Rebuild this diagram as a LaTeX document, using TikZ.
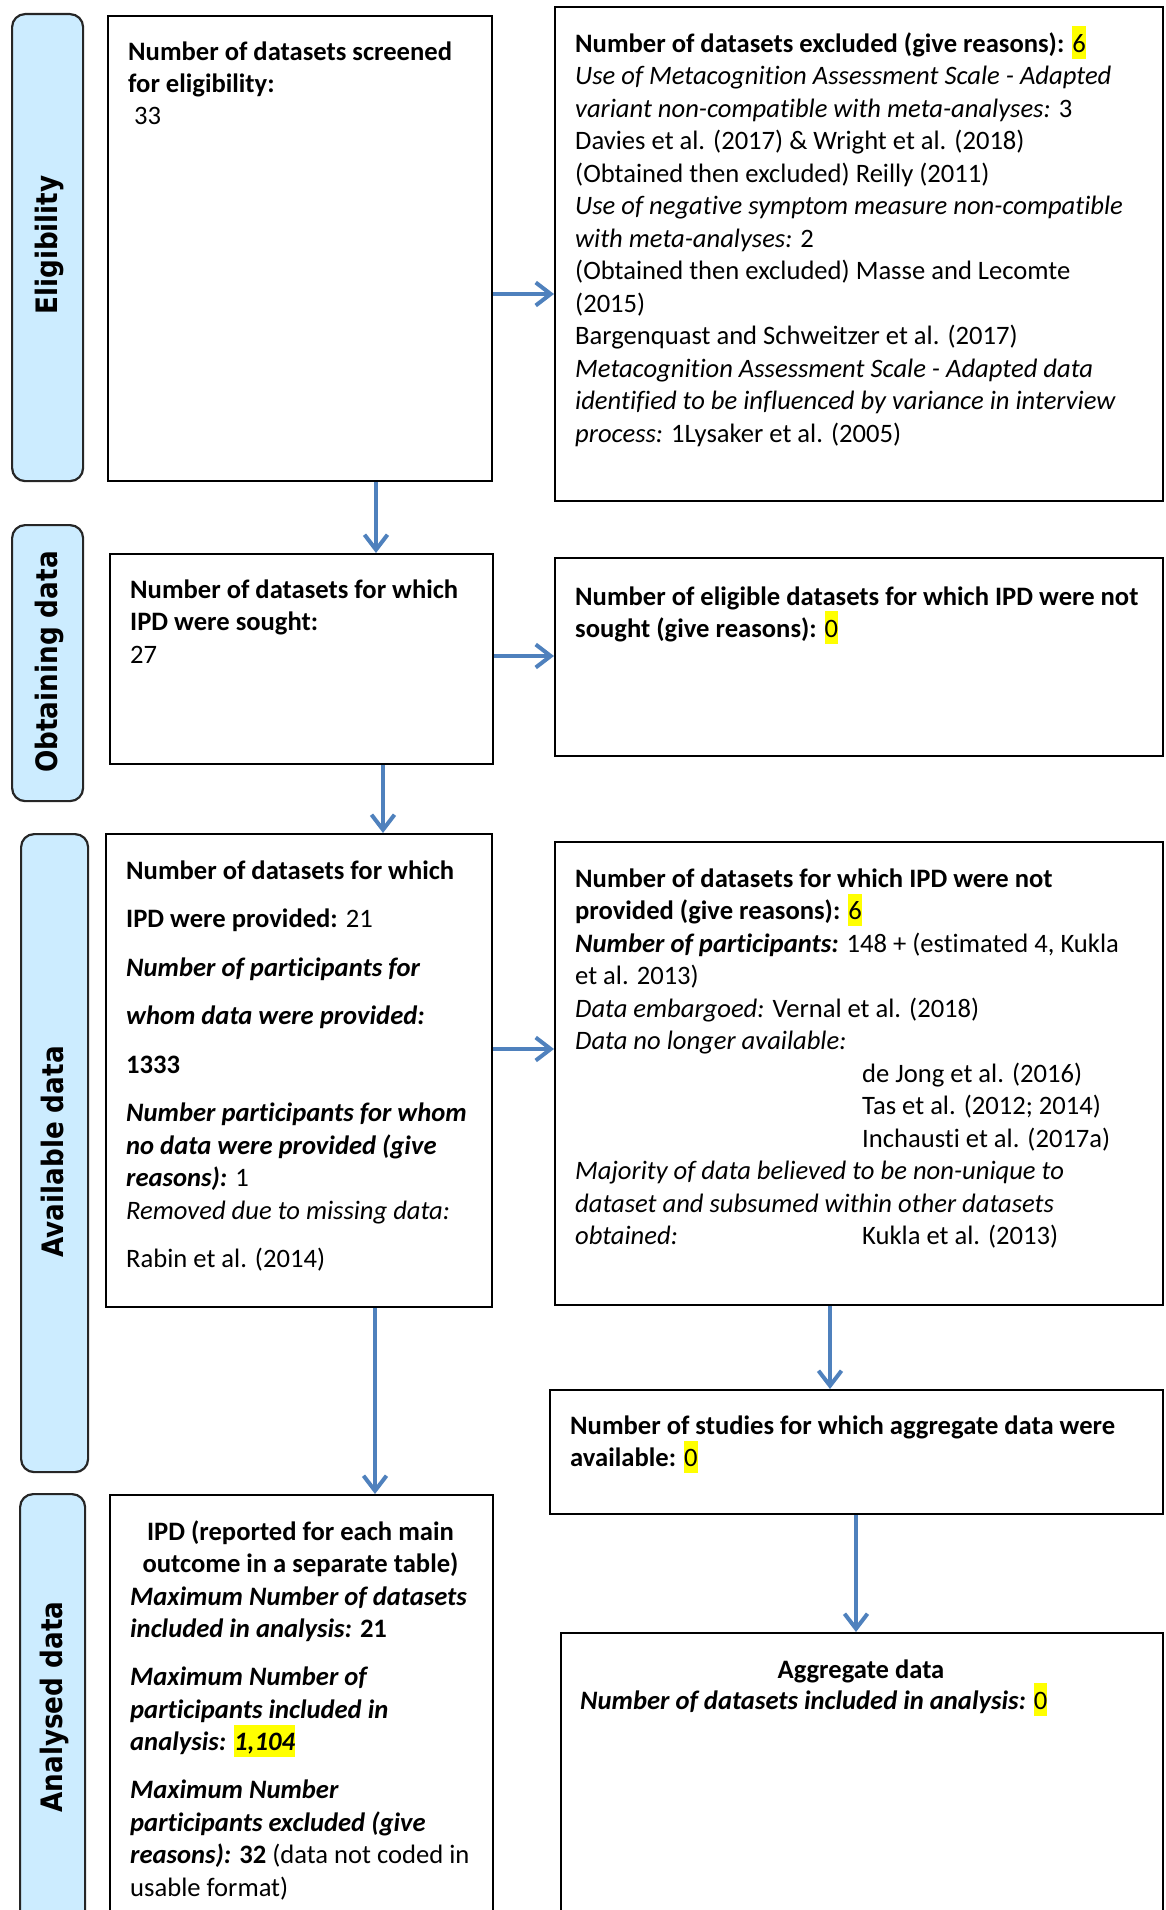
\documentclass[tikz,border=0pt]{standalone}
\usepackage{fontspec}
\setmainfont{Carlito}[Ligatures=NoCommon]
\newfontfamily\labelfont{DejaVu Sans}
\usetikzlibrary{arrows.meta}
\definecolor{arrowblue}{RGB}{79,129,189}
\definecolor{sidefill}{RGB}{204,236,255}
\definecolor{hly}{RGB}{255,255,0}
% yellow highlight behind a number
\newcommand{\hlt}[1]{{\setlength{\fboxsep}{0pt}\colorbox{hly}{\rule[-6.5pt]{0pt}{32.5pt}#1}}}
% fixed first-line height so the top of a text block sits 27pt above its first baseline
\newcommand{\tstrut}{\rule{0pt}{27pt}}
\newcommand{\bi}[1]{\textbf{\textit{#1}}}
\begin{document}
\begin{tikzpicture}[x=1pt,y=-1pt,
  box/.style={draw=black, line width=2pt, fill=white, inner sep=0pt, anchor=north west},
  side/.style={draw=black!85, line width=2.2pt, fill=sidefill, rounded corners=13pt, inner sep=0pt, anchor=north west},
  sidelabel/.style={font=\labelfont\bfseries\fontsize{29.5}{34}\selectfont, rotate=90, anchor=base, inner sep=0pt},
  txt/.style={font=\fontsize{26.6}{32.5}\selectfont, align=left, anchor=north west, inner sep=0pt},
  arr/.style={draw=arrowblue, line width=4pt, -{Straight Barb[length=15pt,width=23pt]}},
]
\useasboundingbox (0,0) rectangle (1165,1910);

% stage bars on the left
\node[side, minimum width=71pt, minimum height=467pt] (S1) at (11,13) {};
\node[side, minimum width=71pt, minimum height=276pt] (S2) at (11,524) {};
\node[side, minimum width=67pt, minimum height=638pt] (S3) at (20,833) {};
\node[side, minimum width=65pt, minimum height=440pt] (S4) at (19,1493) {};
\node[sidelabel] (L1) at (57,245) {\scalebox{0.89}[1]{Eligibility}};
\node[sidelabel] (L2) at (57.5,662) {\scalebox{0.89}[1]{Obtaining data}};
\node[sidelabel] (L3) at (63,1152) {\scalebox{0.89}[1]{Available data}};
\node[sidelabel] (L4) at (62,1707) {\scalebox{0.89}[1]{Analysed data}};

% flow boxes
\node[box, minimum width=384pt, minimum height=465pt] (B1) at (107,15) {};
\node[box, minimum width=608pt, minimum height=494pt] (B2) at (554,6) {};
\node[box, minimum width=383pt, minimum height=210pt] (B3) at (109,553) {};
\node[box, minimum width=608pt, minimum height=198pt] (B4) at (554,557) {};
\node[box, minimum width=386pt, minimum height=473pt] (B5) at (105,833) {};
\node[box, minimum width=608pt, minimum height=463pt] (B6) at (554,841) {};
\node[box, minimum width=383pt, minimum height=440pt] (B7) at (109,1494) {};
\node[box, minimum width=613pt, minimum height=124pt] (B8) at (549,1389) {};
\node[box, minimum width=602pt, minimum height=300pt] (B9) at (560,1632) {};

% box texts
\node[txt, font=\fontsize{26.6}{32}\selectfont] (T1) at (128,33) {\tstrut\textbf{Number of datasets screened}\\
\textbf{for eligibility:}\\
\hspace*{6pt}33};

\node[txt] (T2) at (575,25) {\tstrut\textbf{Number of datasets excluded (give reasons):} \hlt{6}\\
\textit{Use of Metacognition Assessment Scale - Adapted}\\
\textit{variant non-compatible with meta-analyses:} 3\\
Davies et al. (2017) \& Wright et al. (2018)\\
(Obtained then excluded) Reilly (2011)\\
\textit{Use of negative symptom measure non-compatible}\\
\textit{with meta-analyses:} 2\\
(Obtained then excluded) Masse and Lecomte\\
(2015)\\
Bargenquast and Schweitzer et al. (2017)\\
\textit{Metacognition Assessment Scale - Adapted data}\\
\textit{identified to be influenced by variance in interview}\\
\textit{process:} 1Lysaker et al. (2005)};

\node[txt] (T3) at (130,571) {\tstrut\textbf{Number of datasets for which}\\
\textbf{IPD were sought:}\\
27};

\node[txt, font=\fontsize{26.6}{32}\selectfont] (T4) at (575,578) {\tstrut\textbf{Number of eligible datasets for which IPD were not}\\
\textbf{sought (give reasons):} \hlt{0}};

\node[txt] (T5) at (126,852) {\tstrut\textbf{Number of datasets for which}\\[16pt]
\textbf{IPD were provided:} 21\\[16pt]
\bi{Number of participants for}\\[16pt]
\bi{whom data were provided:}\\[16pt]
\textbf{1333}\\[16pt]
\bi{Number participants for whom}\\
\bi{no data were provided (give}\\
\bi{reasons):} 1\\
\textit{Removed due to missing data:}\\[16pt]
Rabin et al. (2014)};

\node[txt] (T6) at (575,860) {\tstrut\textbf{Number of datasets for which IPD were not}\\
\textbf{provided (give reasons):} \hlt{6}\\
\bi{Number of participants:} 148 + (estimated 4, Kukla\\
et al. 2013)\\
\textit{Data embargoed:} Vernal et al. (2018)\\
\textit{Data no longer available:}\\
\hspace*{287pt}de Jong et al. (2016)\\
\hspace*{287pt}Tas et al. (2012; 2014)\\
\hspace*{287pt}Inchausti et al. (2017a)\\
\textit{Majority of data believed to be non-unique to}\\
\textit{dataset and subsumed within other datasets}\\
\makebox[287pt][l]{\textit{obtained:}}Kukla et al. (2013)};

\node[txt, align=center, anchor=north] (T7a) at (300.5,1513) {\tstrut\textbf{IPD (reported for each main}\\
\textbf{outcome in a separate table)}};

\node[txt] (T7b) at (130,1578) {\tstrut\bi{Maximum Number of datasets}\\
\textbf{\textit{included in analysis:} 21}\\[15.5pt]
\bi{Maximum Number of}\\
\bi{participants included in}\\
\bi{analysis:} \hlt{\bi{1,104}}\\[15.5pt]
\bi{Maximum Number}\\
\bi{participants excluded (give}\\
\bi{reasons):} \textbf{32} (data not coded in\\
usable format)};

\node[txt] (T8) at (570,1407) {\tstrut\textbf{Number of studies for which aggregate data were}\\
\textbf{available:} \hlt{0}};

\node[txt, anchor=base] (T9a) at (861,1678) {\textbf{Aggregate data}};
\node[txt, anchor=base west] (T9b) at (580,1709) {\bi{Number of datasets included in analysis:} \hlt{0}};

% connectors
\coordinate (h12) at (0,294);
\coordinate (v13) at (376,0);
\coordinate (h34) at (0,656);
\coordinate (v35) at (383,0);
\coordinate (h56) at (0,1049);
\coordinate (v57) at (375,0);
\coordinate (v68) at (830,0);
\coordinate (v89) at (856,0);
\draw[arr] (B1.east |- h12) -- (B2.west |- h12);
\draw[arr] (B1.south -| v13) -- (B3.north -| v13);
\draw[arr] (B3.east |- h34) -- (B4.west |- h34);
\draw[arr] (B3.south -| v35) -- (B5.north -| v35);
\draw[arr] (B5.east |- h56) -- (B6.west |- h56);
\draw[arr] (B5.south -| v57) -- (B7.north -| v57);
\draw[arr] (B6.south -| v68) -- (B8.north -| v68);
\draw[arr] (B8.south -| v89) -- (B9.north -| v89);
\end{tikzpicture}
\end{document}
